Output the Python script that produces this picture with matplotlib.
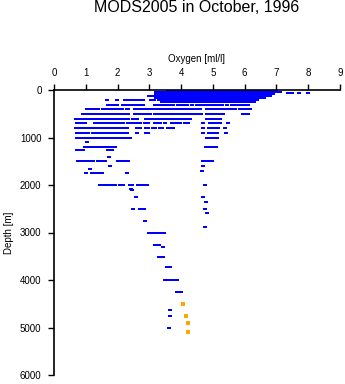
import matplotlib
matplotlib.use('Agg')
import matplotlib.pyplot as plt

plt.rcParams['font.family'] = ['Liberation Sans', 'DejaVu Sans']

# oxygen profiles, one list of readings per depth level (m)
depth_m = [10, 40, 60, 80, 120, 160, 200, 250, 316, 407, 505, 617, 702, 807, 912,
           1017, 1088, 1200, 1263, 1417, 1505, 1607, 1663, 1698, 1754, 2000, 2084,
           2105, 2245, 2365, 2505, 2582, 2758, 2884, 3010, 3263, 3312, 3508, 3735,
           4000, 4252, 4631, 4757, 5017]

oxygen_ml = [
    [3.6, 3.7, 3.8, 3.9, 4.0, 4.1, 4.2, 4.3, 4.4, 4.5, 4.6, 4.7, 4.8, 4.9, 5.0, 5.1, 5.2, 5.3,
     5.4, 5.5, 5.6, 5.7, 5.8, 5.9, 6.0, 6.1, 6.2, 6.3, 6.4, 6.5, 6.6, 6.7, 6.8, 6.9, 7.0],
    [3.2, 3.3, 3.4, 3.5, 3.6, 3.7, 3.8, 3.9, 4.0, 4.1, 4.2, 4.3, 4.4, 4.5, 4.6, 4.7, 4.8, 4.9,
     5.0, 5.1, 5.2, 5.3, 5.4, 5.5, 5.6, 5.7, 5.8, 5.9, 6.0, 6.1, 6.2, 6.3, 6.4, 6.5, 6.6, 6.7,
     6.8, 6.9, 7.0, 7.1],
    [7.35, 7.5, 7.7, 8.0],
    [3.2, 3.3, 3.4, 3.5, 3.6, 3.7, 3.8, 3.9, 4.0, 4.1, 4.2, 4.3, 4.4, 4.5, 4.6, 4.7, 4.8, 4.9,
     5.0, 5.1, 5.2, 5.3, 5.4, 5.5, 5.6, 5.7, 5.8, 5.9, 6.0, 6.1, 6.2, 6.3, 6.4, 6.5, 6.6, 6.7,
     6.8, 6.9],
    [3.0, 3.1, 3.2, 3.3, 3.4, 3.5, 3.6, 3.7, 3.8, 3.9, 4.0, 4.1, 4.2, 4.3, 4.4, 4.5, 4.6, 4.7,
     4.8, 4.9, 5.0, 5.1, 5.2, 5.3, 5.4, 5.5, 5.6, 5.7, 5.8, 5.9, 6.0, 6.1, 6.2, 6.3, 6.4, 6.5,
     6.6, 6.7, 6.8],
    [3.2, 3.3, 3.4, 3.5, 3.6, 3.7, 3.8, 3.9, 4.0, 4.1, 4.2, 4.3, 4.4, 4.5, 4.6, 4.7, 4.8, 4.9,
     5.0, 5.1, 5.2, 5.3, 5.4, 5.5, 5.6, 5.7, 5.8, 5.9, 6.0, 6.1, 6.2, 6.3, 6.4, 6.5, 6.6],
    [1.66, 1.97, 2.23, 2.3, 2.4, 2.5, 2.6, 2.7, 2.8, 3.05, 3.15, 3.3, 3.4, 3.5, 3.6, 3.7, 3.8,
     3.9, 4.0, 4.1, 4.2, 4.3, 4.4, 4.5, 4.6, 4.7, 4.8, 4.9, 5.0, 5.1, 5.2, 5.3, 5.4, 5.5, 5.6,
     5.7, 5.8, 5.9, 6.0, 6.1, 6.2, 6.3, 6.4],
    [3.4, 3.5, 3.6, 3.7, 3.8, 3.9, 4.0, 4.1, 4.2, 4.3, 4.4, 4.5, 4.6, 4.7, 4.8, 4.9, 5.0, 5.1,
     5.2, 5.3, 5.4, 5.5, 5.6, 5.7, 5.8, 5.9, 6.0, 6.1, 6.2, 6.3],
    [1.71, 1.8, 1.9, 1.97, 2.18, 2.23, 2.34, 2.44, 2.54, 2.64, 2.74, 2.81, 3.18, 3.28, 3.38,
     3.48, 3.58, 3.68, 3.75, 3.9, 4.0, 4.1, 4.2, 4.35, 4.5, 4.6, 4.7, 4.8, 4.9, 5.0, 5.1, 5.2,
     5.3, 5.45, 5.6, 5.7, 5.8, 5.9, 6.0, 6.1],
    [1.03, 1.13, 1.24, 1.32, 1.39, 1.55, 1.65, 1.75, 1.85, 1.95, 2.05, 2.13, 2.29, 2.34, 2.55,
     2.65, 2.75, 2.85, 2.95, 3.07, 3.18, 3.28, 3.39, 3.44, 3.54, 3.64, 3.74, 3.84, 3.94, 4.04,
     4.14, 4.24, 4.34, 4.38, 4.49, 4.59, 4.8, 4.9, 5.0, 5.1, 5.2, 5.3, 5.4, 5.5, 5.6, 5.7,
     5.85, 5.9, 6.0, 6.1, 6.16],
    [0.92, 1.03, 1.18, 1.28, 1.39, 1.5, 1.6, 1.7, 1.8, 1.9, 2.0, 2.1, 2.2, 2.34, 2.55, 2.65,
     2.75, 2.85, 2.95, 3.02, 3.18, 3.25, 3.33, 3.44, 3.54, 3.64, 3.74, 3.84, 3.94, 4.04, 4.14,
     4.24, 4.34, 4.38, 4.43, 4.53, 4.64, 4.8, 4.9, 5.0, 5.1, 5.2, 5.32, 5.95, 6.05, 6.11],
    [0.69, 0.79, 0.89, 0.97, 1.11, 1.21, 1.31, 1.45, 1.55, 1.65, 1.75, 1.85, 1.95, 2.05, 2.15,
     2.25, 2.34, 2.49, 2.6, 2.91, 3.02, 3.12, 3.22, 3.32, 3.39, 3.49, 3.57, 3.65, 3.7, 3.8,
     3.9, 4.01, 4.07, 4.17, 4.28, 4.8, 4.9, 5.0, 5.1, 5.22],
    [0.71, 0.8, 0.9, 0.97, 1.29, 1.39, 1.45, 1.55, 1.66, 1.76, 1.86, 1.97, 2.08, 2.18, 2.34,
     2.44, 2.55, 2.62, 2.7, 2.86, 2.97, 3.18, 3.25, 3.33, 3.49, 3.7, 3.8, 3.9, 3.96, 4.12,
     4.22, 4.7, 4.91, 5.0, 5.1, 5.22, 5.48],
    [0.69, 0.79, 0.89, 0.99, 1.09, 1.19, 1.29, 1.39, 1.49, 1.59, 1.69, 1.79, 1.89, 1.99, 2.09,
     2.19, 2.29, 2.6, 2.7, 2.91, 2.97, 3.12, 3.18, 3.33, 3.39, 3.6, 3.68, 3.75, 4.7, 4.88,
     4.98, 5.08, 5.17, 5.38],
    [0.71, 0.8, 0.9, 1.0, 1.08, 1.22, 1.32, 1.42, 1.5, 1.55, 1.65, 1.75, 1.85, 1.95, 2.05,
     2.15, 2.22, 2.29, 2.6, 2.91, 2.97, 4.7, 4.88, 4.98, 5.05, 5.12, 5.41],
    [0.73, 0.83, 0.93, 1.03, 1.13, 1.23, 1.34, 1.45, 1.55, 1.65, 1.75, 1.85, 1.95, 2.05, 2.15,
     2.22, 2.29, 2.39, 4.8, 4.9, 5.0, 5.12],
    [1.03],
    [0.97, 1.07, 1.15, 1.22, 1.34, 1.39, 1.5, 1.6, 1.7, 1.8, 1.92, 4.78, 4.85, 4.92, 5.0, 5.09],
    [0.71, 0.8, 0.92, 1.7, 1.76, 1.82],
    [1.74],
    [0.74, 0.8, 0.92, 1.02, 1.12, 1.24, 1.39, 1.5, 1.6, 2.02, 2.12, 2.22, 2.33, 4.68, 4.78,
     4.88, 4.96],
    [1.76, 4.69],
    [1.13],
    [4.67],
    [1.0, 1.19, 1.29, 1.39, 1.5, 2.29],
    [1.45, 1.55, 1.65, 1.75, 1.85, 1.92, 2.08, 2.17, 2.39, 2.47, 2.64, 2.74, 2.84, 2.93, 4.75],
    [2.42],
    [2.44],
    [2.58, 4.7],
    [4.78],
    [2.48, 2.7, 2.77, 2.84, 4.76],
    [4.82],
    [2.87],
    [4.76],
    [2.99, 3.09, 3.19, 3.29, 3.39, 3.46],
    [3.18, 3.25, 3.31],
    [3.42],
    [3.31, 3.42],
    [3.55, 3.65],
    [3.49, 3.59, 3.69, 3.79, 3.87],
    [3.87, 3.93, 3.99],
    [3.65],
    [3.65],
    [3.62],
]

# flagged deep readings
flag_depth = [4505, 4757, 4911, 5087]
flag_oxygen = [4.07, 4.15, 4.21, 4.23]

x = []
y = []
for d, vals in zip(depth_m, oxygen_ml):
    for v in vals:
        x.append(v)
        y.append(d)

# flat little box, a bit wider than tall
box = [(-1.0, -0.7), (1.0, -0.7), (1.0, 0.7), (-1.0, 0.7), (-1.0, -0.7)]

fig = plt.figure(figsize=(3.45, 3.84), dpi=100)
ax = fig.add_axes([54/345, 1 - 375/384, 286/345, 285/384])

ax.scatter(x, y, s=6.5, marker=box, color='#0000ff', linewidths=0)
ax.scatter(flag_oxygen, flag_depth, s=6.5, marker='s', color='#ffa500', linewidths=0)

ax.set_xlim(0, 9)
ax.set_ylim(6000, 0)
ax.set_xticks(range(0, 10))
ax.set_yticks(range(0, 7000, 1000))

ax.xaxis.set_ticks_position('top')
ax.xaxis.set_label_position('top')
ax.spines['right'].set_visible(False)
ax.spines['bottom'].set_visible(False)
for s in ['top', 'left']:
    ax.spines[s].set_linewidth(1.2)
ax.tick_params(direction='out', length=4, width=1.0, labelsize=7, pad=5, colors='black')

ax.set_xlabel('Oxygen [ml/l]', fontsize=7, labelpad=4)
ax.set_ylabel('Depth [m]', fontsize=7, labelpad=4)

fig.text(197/345, 1 - 8/384, 'MODS2005 in October, 1996', ha='center', va='center',
         fontsize=11.5)

fig.savefig('out.png', dpi=100)
